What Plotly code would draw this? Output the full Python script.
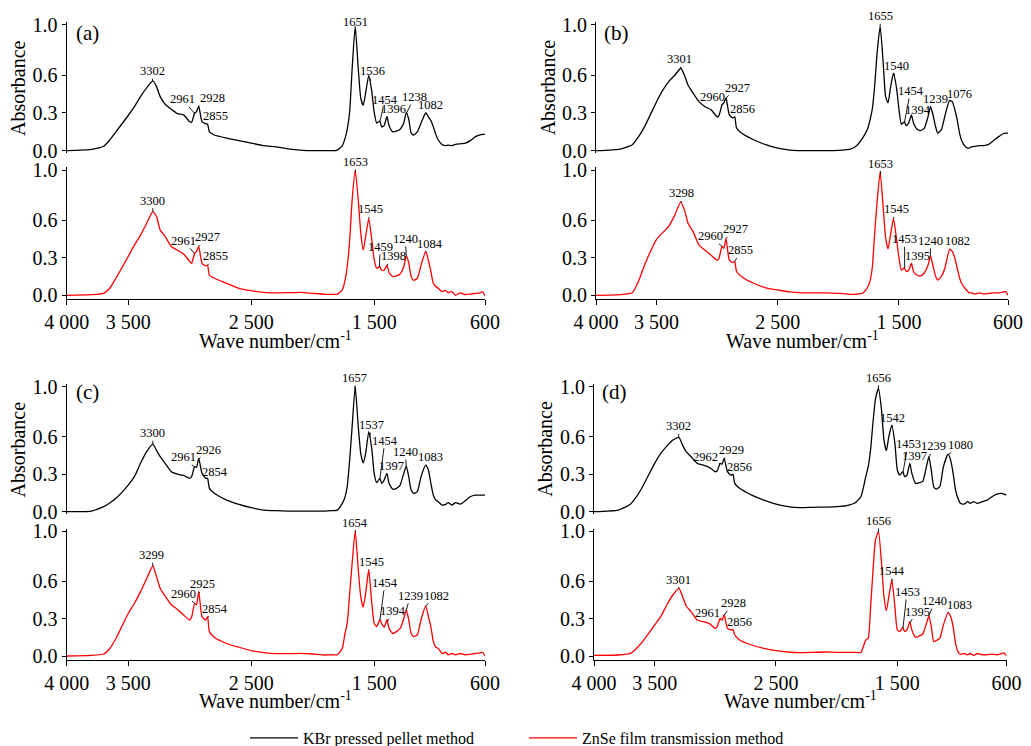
import numpy as np
import plotly.graph_objects as go

# ---------------- data ----------------
WAVENUMBER = [4000, 3800, 3700, 3650, 3600, 3500, 3450, 3400, 3350, 3300,
              3270, 3240, 3200, 3150, 3100, 3050, 3000, 2985, 2960, 2945,
              2927, 2900, 2870, 2855, 2840, 2800, 2700, 2600, 2500, 2400,
              2300, 2200, 2100, 2000, 1900, 1850, 1800, 1760, 1740, 1720,
              1700, 1680, 1655, 1630, 1610, 1590, 1570, 1545, 1520, 1500,
              1480, 1455, 1440, 1420, 1397, 1380, 1350, 1320, 1290, 1260,
              1240, 1220, 1200, 1180, 1150, 1120, 1082, 1060, 1040, 1020,
              1000, 980, 950, 920, 900, 870, 840, 800, 760, 720,
              680, 640, 620, 600]

KBR_A = [0.0, 0.01, 0.035, 0.085, 0.15, 0.28, 0.35, 0.43, 0.5, 0.555,
         0.51, 0.43, 0.37, 0.33, 0.295, 0.285, 0.23, 0.225, 0.3, 0.31,
         0.355, 0.23, 0.215, 0.21, 0.15, 0.125, 0.1, 0.08, 0.06, 0.04,
         0.03, 0.015, 0.005, 0.0, 0.0, 0.0, 0.005, 0.04, 0.09, 0.17,
         0.31, 0.65, 0.99, 0.65, 0.42, 0.36, 0.46, 0.6, 0.47, 0.3,
         0.22, 0.235, 0.19, 0.2, 0.27, 0.2, 0.15, 0.155, 0.17, 0.22,
         0.305, 0.25, 0.14, 0.125, 0.15, 0.22, 0.3, 0.27, 0.24, 0.19,
         0.13, 0.085, 0.05, 0.04, 0.045, 0.04, 0.05, 0.055, 0.06, 0.08,
         0.11, 0.125, 0.13, 0.13]
ZNSE_A = [0.0, 0.005, 0.016, 0.056, 0.136, 0.31, 0.40, 0.48, 0.575, 0.668,
          0.63, 0.52, 0.47, 0.39, 0.36, 0.33, 0.27, 0.255, 0.335, 0.35,
          0.39, 0.255, 0.235, 0.24, 0.16, 0.136, 0.096, 0.056, 0.037, 0.024,
          0.019, 0.021, 0.024, 0.016, 0.008, 0.008, 0.008, 0.043, 0.11, 0.23,
          0.44, 0.76, 1.0, 0.76, 0.5, 0.36, 0.47, 0.614, 0.44, 0.28,
          0.215, 0.23, 0.2, 0.2, 0.24, 0.18, 0.15, 0.155, 0.17, 0.23,
          0.316, 0.26, 0.15, 0.12, 0.136, 0.24, 0.35, 0.28, 0.19, 0.096,
          0.07, 0.056, 0.03, 0.04, 0.02, 0.03, 0.0, 0.02, 0.005, 0.01,
          0.015, 0.02, 0.03, -0.005]

KBR_B = [0.0, 0.013, 0.048, 0.11, 0.19, 0.39, 0.48, 0.55, 0.6, 0.656,
         0.6, 0.52, 0.46, 0.39, 0.35, 0.325, 0.27, 0.28, 0.365, 0.38,
         0.42, 0.285, 0.26, 0.27, 0.18, 0.14, 0.087, 0.048, 0.02, 0.005,
         0.0, 0.0, 0.0, 0.003, 0.013, 0.04, 0.1, 0.17, 0.24, 0.33,
         0.52, 0.78, 0.99, 0.7, 0.43, 0.38, 0.5, 0.616, 0.5, 0.33,
         0.21, 0.23, 0.2, 0.22, 0.285, 0.22, 0.17, 0.16, 0.18, 0.27,
         0.35, 0.29, 0.2, 0.14, 0.167, 0.28, 0.4, 0.39, 0.33, 0.25,
         0.14, 0.075, 0.03, 0.02, 0.03, 0.035, 0.04, 0.04, 0.05, 0.08,
         0.11, 0.135, 0.14, 0.14]
ZNSE_B = [0.0, 0.005, 0.02, 0.11, 0.24, 0.447, 0.5, 0.55, 0.64, 0.745,
          0.68, 0.575, 0.51, 0.4, 0.36, 0.32, 0.28, 0.295, 0.39, 0.375,
          0.455, 0.28, 0.26, 0.27, 0.19, 0.15, 0.096, 0.06, 0.043, 0.027,
          0.02, 0.02, 0.02, 0.016, 0.008, 0.01, 0.016, 0.06, 0.11, 0.22,
          0.5, 0.75, 0.987, 0.7, 0.46, 0.37, 0.48, 0.614, 0.45, 0.3,
          0.2, 0.22, 0.19, 0.2, 0.255, 0.19, 0.16, 0.155, 0.18, 0.24,
          0.314, 0.24, 0.16, 0.122, 0.15, 0.22, 0.367, 0.35, 0.3, 0.22,
          0.14, 0.09, 0.05, 0.02, 0.02, 0.01, 0.02, 0.01, 0.015, 0.02,
          0.02, 0.025, 0.03, 0.0]

KBR_C = [0.0, 0.005, 0.04, 0.07, 0.107, 0.213, 0.28, 0.387, 0.48, 0.54,
         0.49, 0.44, 0.387, 0.32, 0.3, 0.29, 0.267, 0.28, 0.36, 0.355,
         0.427, 0.307, 0.267, 0.267, 0.187, 0.147, 0.093, 0.059, 0.032, 0.013,
         0.008, 0.005, 0.005, 0.005, 0.005, 0.008, 0.013, 0.067, 0.11, 0.2,
         0.413, 0.68, 1.0, 0.68, 0.467, 0.39, 0.467, 0.64, 0.5, 0.3,
         0.232, 0.267, 0.227, 0.253, 0.307, 0.227, 0.18, 0.187, 0.213, 0.307,
         0.365, 0.28, 0.173, 0.147, 0.16, 0.28, 0.373, 0.333, 0.227, 0.133,
         0.093, 0.08, 0.053, 0.059, 0.072, 0.053, 0.072, 0.061, 0.088, 0.12,
         0.133, 0.133, 0.133, 0.133]
ZNSE_C = [0.0, 0.005, 0.016, 0.06, 0.14, 0.34, 0.42, 0.515, 0.62, 0.72,
          0.635, 0.54, 0.48, 0.41, 0.373, 0.328, 0.288, 0.31, 0.42, 0.41,
          0.515, 0.315, 0.288, 0.315, 0.195, 0.15, 0.1, 0.07, 0.043, 0.027,
          0.019, 0.019, 0.021, 0.016, 0.008, 0.01, 0.01, 0.06, 0.17, 0.26,
          0.5, 0.74, 1.0, 0.69, 0.475, 0.39, 0.5, 0.69, 0.42, 0.26,
          0.235, 0.29, 0.26, 0.23, 0.29, 0.22, 0.18, 0.195, 0.22, 0.3,
          0.373, 0.29, 0.18, 0.155, 0.17, 0.29, 0.4, 0.315, 0.235, 0.115,
          0.07, 0.06, 0.021, 0.03, 0.01, 0.02, 0.01, 0.02, 0.01, 0.015,
          0.02, 0.025, 0.03, 0.0]

KBR_D = [0.0, 0.013, 0.06, 0.12, 0.2, 0.387, 0.467, 0.525, 0.573, 0.595,
         0.533, 0.48, 0.44, 0.387, 0.373, 0.355, 0.32, 0.325, 0.387, 0.38,
         0.427, 0.32, 0.293, 0.3, 0.227, 0.187, 0.133, 0.093, 0.061, 0.04,
         0.032, 0.035, 0.037, 0.04, 0.053, 0.07, 0.12, 0.28, 0.36, 0.5,
         0.72, 0.9, 0.987, 0.813, 0.573, 0.488, 0.6, 0.693, 0.547, 0.333,
         0.293, 0.32, 0.28, 0.293, 0.387, 0.307, 0.227, 0.232, 0.243, 0.36,
         0.44, 0.333, 0.2, 0.18, 0.2, 0.36, 0.46, 0.413, 0.307, 0.173,
         0.107, 0.067, 0.061, 0.08, 0.067, 0.08, 0.067, 0.08, 0.093, 0.12,
         0.141, 0.147, 0.14, 0.133]
ZNSE_D = [0.005, 0.008, 0.021, 0.06, 0.115, 0.248, 0.315, 0.408, 0.488, 0.541,
          0.475, 0.4, 0.355, 0.288, 0.275, 0.261, 0.221, 0.235, 0.3, 0.288,
          0.328, 0.221, 0.208, 0.213, 0.168, 0.128, 0.088, 0.061, 0.043, 0.032,
          0.027, 0.029, 0.032, 0.029, 0.029, 0.029, 0.029, 0.128, 0.141, 0.395,
          0.688, 0.928, 0.995, 0.74, 0.475, 0.363, 0.475, 0.608, 0.395, 0.208,
          0.195, 0.229, 0.195, 0.208, 0.275, 0.208, 0.149, 0.16, 0.176, 0.26,
          0.32, 0.235, 0.115, 0.123, 0.141, 0.248, 0.347, 0.315, 0.235, 0.101,
          0.035, 0.013, 0.02, 0.01, 0.02, 0.005, 0.02, 0.01, 0.01, 0.015,
          0.01, 0.02, 0.025, 0.0]

PEAKS_KBR_A = ["3302", "2961", "2928", "2855", "1651", "1536", "1454", "1396", "1238", "1082"]
PEAKS_ZNSE_A = ["3300", "2961", "2927", "2855", "1653", "1545", "1459", "1398", "1240", "1084"]
PEAKS_KBR_B = ["3301", "2960", "2927", "2856", "1655", "1540", "1454", "1394", "1239", "1076"]
PEAKS_ZNSE_B = ["3298", "2960", "2927", "2855", "1653", "1545", "1453", "1395", "1240", "1082"]
PEAKS_KBR_C = ["3300", "2961", "2926", "2854", "1657", "1537", "1454", "1397", "1240", "1083"]
PEAKS_ZNSE_C = ["3299", "2960", "2925", "2854", "1654", "1545", "1454", "1394", "1239", "1082"]
PEAKS_KBR_D = ["3302", "2962", "2929", "2856", "1656", "1542", "1453", "1397", "1239", "1080"]
PEAKS_ZNSE_D = ["3301", "2961", "2928", "2856", "1656", "1544", "1453", "1395", "1240", "1083"]

PANEL_LABELS = ["(a)", "(b)", "(c)", "(d)"]
SERIES_NAMES = ["KBr pressed pellet method", "ZnSe film transmission method"]
X_TICKS = [4000, 3500, 2500, 1500, 600]
X_TICK_TEXT = ["4 000", "3 500", "2 500", "1 500", "600"]
Y_TICKS = [0.0, 0.3, 0.6, 1.0]
Y_TICK_TEXT = ["0.0", "0.3", "0.6", "1.0"]
X_TITLE = "Wave number/cm<sup>-1</sup>"
Y_TITLE = "Absorbance"

# ---------------- layout / style ----------------
# the page body keeps the browser's default 8 px margin, so the figure is
# sized to the window minus that margin and window pixels are shifted by it
PAGE_OFF = 8
W, H = 1031 - PAGE_OFF, 746 - PAGE_OFF
FONT = "Liberation Serif"
BLACK = "#000000"
RED = "#ff0000"


def px_x(x):
    return (x - PAGE_OFF) / W


def px_y(y):
    return 1 - (y - PAGE_OFF) / H


# label offsets (pixels, text centre relative to the marked point)
OFFSETS = {
    "a_top": [(0, -10), (-12, -14), (14, -8), (8, -8), (0, -11), (3, -10), (5, -22), (6, -8), (8, -16), (5, -8)],
    "a_bot": [(0, -11), (-11, -13), (9, -9), (8, -9), (0, -10), (2, -9), (1, -20), (7, -9), (-1, -17), (5, -8)],
    "b_top": [(-1, -9), (-10, -8), (11, -10), (8, -8), (0, -10), (2, -10), (6, -31), (6, -6), (5, -8), (9, -7)],
    "b_bot": [(0, -9), (-12, -10), (9, -9), (6, -11), (0, -11), (3, -9), (0, -29), (6, -8), (0, -15), (8, -8)],
    "c_top": [(0, -11), (-11, -10), (10, -9), (7, -7), (0, -12), (2, -12), (5, -38), (5, -7), (-1, -14), (5, -8)],
    "c_bot": [(-1, -11), (-11, -10), (4, -9), (7, -9), (0, -10), (3, -8), (5, -37), (6, -10), (4, -14), (11, -10)],
    "d_top": [(0, -11), (-14, -7), (8, -9), (7, -7), (0, -11), (0, -9), (5, -28), (5, -7), (5, -11), (12, -10)],
    "d_bot": [(0, -9), (-13, -6), (9, -12), (7, -7), (0, -11), (0, -10), (4, -36), (7, -11), (6, -15), (12, -8)],
}

# window-pixel geometry measured on the reference
COLS = {"a": (66.7, 485.0), "b": (596.0, 1008.0), "c": (66.7, 485.0), "d": (594.0, 1006.5)}
ROWS = {"a": 0, "b": 0, "c": 1, "d": 1}
ROW_Y = [((150.7, 25.0), (295.3, 170.0)), ((511.7, 386.7), (656.0, 531.0))]
XTITLE_Y = [340, 700]
PLABEL_Y = [33, 392]
TOP_RANGE = [-0.02, 1.02]
BOT_RANGE = [-0.03, 1.02]


def ydomain(y0px, y1px, rng):
    s = y0px - y1px
    top = y1px - (rng[1] - 1) * s
    bot = y0px - rng[0] * s
    return [px_y(bot), px_y(top)]


panels = [
    ("a", KBR_A, ZNSE_A, PEAKS_KBR_A, PEAKS_ZNSE_A),
    ("b", KBR_B, ZNSE_B, PEAKS_KBR_B, PEAKS_ZNSE_B),
    ("c", KBR_C, ZNSE_C, PEAKS_KBR_C, PEAKS_ZNSE_C),
    ("d", KBR_D, ZNSE_D, PEAKS_KBR_D, PEAKS_ZNSE_D),
]

fig = go.Figure()
layout = {}
annotations = []
wn_inc = np.array(WAVENUMBER[::-1], dtype=float)

axis_font = dict(family=FONT, size=20, color=BLACK)
idx = 0
for p, (key, kbr, znse, pk_kbr, pk_znse) in enumerate(panels):
    x0, x1 = COLS[key]
    row = ROWS[key]
    for sub, (vals, color, peaks, name) in enumerate(
            [(kbr, BLACK, pk_kbr, SERIES_NAMES[0]), (znse, RED, pk_znse, SERIES_NAMES[1])]):
        idx += 1
        xa = "x" if idx == 1 else f"x{idx}"
        ya = "y" if idx == 1 else f"y{idx}"
        y0px, y1px = ROW_Y[row][sub]
        rng = TOP_RANGE if sub == 0 else BOT_RANGE
        fig.add_trace(go.Scatter(
            x=WAVENUMBER, y=vals, mode="lines", xaxis=xa, yaxis=ya,
            line=dict(color=color, width=1.3, shape="spline", smoothing=0.5),
            name=name, showlegend=(p == 0), hoverinfo="skip"))
        xkey = "xaxis" if idx == 1 else f"xaxis{idx}"
        ykey = "yaxis" if idx == 1 else f"yaxis{idx}"
        is_bottom = sub == 1
        layout[xkey] = dict(
            domain=[px_x(x0), px_x(x1)], range=[4000, 600], anchor=ya, automargin=False,
            showgrid=False, zeroline=False,
            showline=is_bottom, linecolor=BLACK, linewidth=1.2,
            ticks="outside" if is_bottom else "", ticklen=5, tickwidth=1.2, tickcolor=BLACK,
            tickvals=X_TICKS, ticktext=X_TICK_TEXT, showticklabels=is_bottom,
            tickfont=axis_font)
        layout[ykey] = dict(
            domain=ydomain(y0px, y1px, rng), range=rng, anchor=xa, automargin=False,
            showgrid=False, zeroline=False,
            showline=True, linecolor=BLACK, linewidth=1.2,
            ticks="outside", ticklen=4, tickwidth=1.2, tickcolor=BLACK,
            tickvals=Y_TICKS, ticktext=Y_TICK_TEXT, tickfont=axis_font)
        # peak labels with leader lines
        offs = OFFSETS[f"{key}_{'top' if sub == 0 else 'bot'}"]
        vals_inc = np.array(vals[::-1], dtype=float)
        for lab, (ax, ay) in zip(peaks, offs):
            w = float(lab)
            v = float(np.interp(w, wn_inc, vals_inc))
            annotations.append(dict(
                x=w, y=v, xref=xa, yref=ya, text=lab, showarrow=True,
                arrowhead=0, arrowwidth=0.9, arrowcolor=BLACK, ax=ax, ay=ay,
                standoff=0, borderpad=0,
                font=dict(family=FONT, size=12.5, color=BLACK)))
        if sub == 1:
            annotations.append(dict(
                x=px_x((x0 + x1) / 2), y=px_y(XTITLE_Y[row]),
                xref="paper", yref="paper", xanchor="center", yanchor="middle",
                text=X_TITLE, showarrow=False,
                font=dict(family=FONT, size=20, color=BLACK)))
        else:
            annotations.append(dict(
                x=px_x(x0 + 20.5), y=px_y(PLABEL_Y[row]),
                xref="paper", yref="paper", xanchor="center", yanchor="middle",
                text=PANEL_LABELS[p], showarrow=False,
                font=dict(family=FONT, size=21, color=BLACK)))
            annotations.append(dict(
                x=px_x(x0 - 48.5), y=px_y((y0px + y1px) / 2),
                xref="paper", yref="paper", xanchor="center", yanchor="middle",
                text=Y_TITLE, textangle=-90, showarrow=False,
                font=dict(family=FONT, size=20, color=BLACK)))

fig.update_layout(
    width=W, height=H, margin=dict(l=0, r=0, t=0, b=0, autoexpand=False),
    paper_bgcolor="white", plot_bgcolor="rgba(0,0,0,0)",
    font=dict(family=FONT, color=BLACK),
    annotations=annotations,
    legend=dict(orientation="h", x=px_x(245), y=px_y(738), xanchor="left", yanchor="middle",
                font=dict(family=FONT, size=16, color=BLACK),
                entrywidth=216, entrywidthmode="pixels", itemwidth=48,
                bgcolor="rgba(0,0,0,0)", tracegroupgap=0),
    **layout)

fig.write_html("out.html")
